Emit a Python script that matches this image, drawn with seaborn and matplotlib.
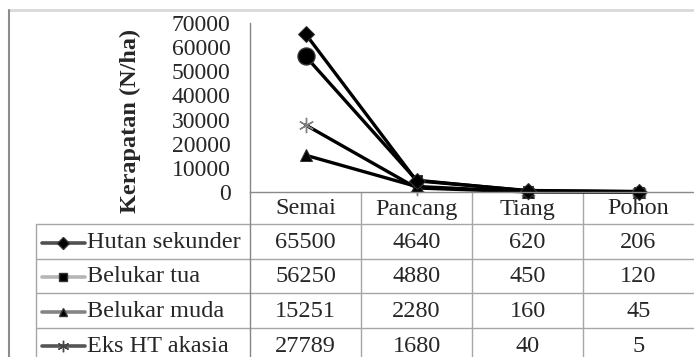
import numpy as np
import pandas as pd
import matplotlib.pyplot as plt
import seaborn as sns

stages = ["Semai", "Pancang", "Tiang", "Pohon"]
series_names = ["Hutan sekunder", "Belukar tua", "Belukar muda", "Eks HT akasia"]
hutan_sekunder = [65500, 4640, 620, 206]
belukar_tua = [56250, 4880, 450, 120]
belukar_muda = [15251, 2280, 160, 45]
eks_ht_akasia = [27789, 1680, 40, 5]
y_ticks = [0, 10000, 20000, 30000, 40000, 50000, 60000, 70000]
y_label = "Kerapatan (N/ha)"

values = [hutan_sekunder, belukar_tua, belukar_muda, eks_ht_akasia]

sns.set_style("white")
plt.rcParams['font.family'] = ['Liberation Serif', 'DejaVu Serif']

W, H = 694, 357
fig = plt.figure(figsize=(W / 100, H / 100), dpi=100)

# background axes in pixel coords for frame + data table
tab = fig.add_axes([0, 0, 1, 1], zorder=0)
tab.set_xlim(0, W)
tab.set_ylim(H, 0)
tab.axis('off')

ax = fig.add_axes([250 / W, 1 - 192 / H, 444 / W, 169 / H], zorder=2)
ax.patch.set_alpha(0)

# marker styles per series (Excel-like)
styles = {
    "Hutan sekunder": dict(marker="D", markersize=8.5, markerfacecolor="black", markeredgecolor="#333333"),
    "Belukar tua": dict(marker="s", markersize=7.5, markerfacecolor="black", markeredgecolor="#333333"),
    "Belukar muda": dict(marker="^", markersize=8.5, markerfacecolor="black", markeredgecolor="#333333"),
    "Eks HT akasia": dict(marker=(6, 2, 0), markersize=11, markerfacecolor="#808080",
                          markeredgecolor="#808080", markeredgewidth=1.0),
}
legend_line_colors = {
    "Hutan sekunder": "#505050",
    "Belukar tua": "#b5b5b5",
    "Belukar muda": "#858585",
    "Eks HT akasia": "#555555",
}

draw_order = ["Eks HT akasia", "Belukar muda", "Belukar tua", "Hutan sekunder"]
for name in draw_order:
    vals = values[series_names.index(name)]
    sns.lineplot(x=stages, y=vals, ax=ax, color="black", linewidth=2.4, sort=False,
                 **styles[name])

# Belukar tua first point is shown as a round marker
sns.scatterplot(x=stages[:1], y=belukar_tua[:1], ax=ax, marker="o", s=150,
                color="black", edgecolor="#333333", zorder=5)

for ln in ax.lines:
    ln.set_clip_on(False)
for coll in ax.collections:
    coll.set_clip_on(False)

ax.set_xlim(-0.5, 3.5)
ax.set_ylim(0, 70000)
ax.set_yticks(y_ticks)
ax.set_yticklabels([str(t) for t in y_ticks])
ax.set_xticks([])
ax.tick_params(axis='y', length=0, pad=14, labelsize=17)
ax.set_xlabel("")
ax.set_ylabel("")
for s in ["top", "right"]:
    ax.spines[s].set_visible(False)
ax.spines["left"].set_color("#868686")
ax.spines["bottom"].set_color("#8a8a8a")
ax.spines["left"].set_linewidth(1.0)
ax.spines["bottom"].set_linewidth(1.0)

fig.text(130 / W, 1 - 121 / H, y_label, rotation=90, ha="center", va="center",
         fontsize=17.5, fontweight="bold")

# chart frame
tab.plot([9, W], [10, 10], color="#d9d9d9", lw=2)
tab.plot([9, 9], [10, H], color="#8c8c8c", lw=1.5)

# data table
grid_c = "#a6a6a6"
col_w = 111
x0 = 250
row_edges = [192, 224, 259, 293, 328, 362]
for y in row_edges[1:-1]:
    tab.plot([36, W], [y, y], color=grid_c, lw=1)
for i in range(1, len(stages)):
    xv = x0 + col_w * i
    tab.plot([xv, xv], [192, H], color=grid_c, lw=1)
tab.plot([x0, x0], [192, H], color="#868686", lw=1)
tab.plot([36, 36], [224, H], color=grid_c, lw=1)

for i, st in enumerate(stages):
    tab.text(x0 + col_w * (i + 0.5), (row_edges[0] + row_edges[1]) / 2 + 1, st,
             ha="center", va="center", fontsize=17.5)

for r, name in enumerate(series_names):
    yc = (row_edges[r + 1] + row_edges[r + 2]) / 2 + 1
    vals = values[r]
    for i, v in enumerate(vals):
        tab.text(x0 + col_w * (i + 0.5), yc, str(v), ha="center", va="center", fontsize=17.5)
    tab.plot([42, 85], [yc, yc], color=legend_line_colors[name], lw=2.6)
    st = dict(styles[name])
    st["markersize"] = st["markersize"] * 0.75
    if name == "Eks HT akasia":
        st["markerfacecolor"] = st["markeredgecolor"] = "#444444"
    tab.plot([63.5], [yc], linestyle="none", **st)
    tab.text(87, yc, name, ha="left", va="center", fontsize=17.5)

fig.savefig("out.png", dpi=100)
